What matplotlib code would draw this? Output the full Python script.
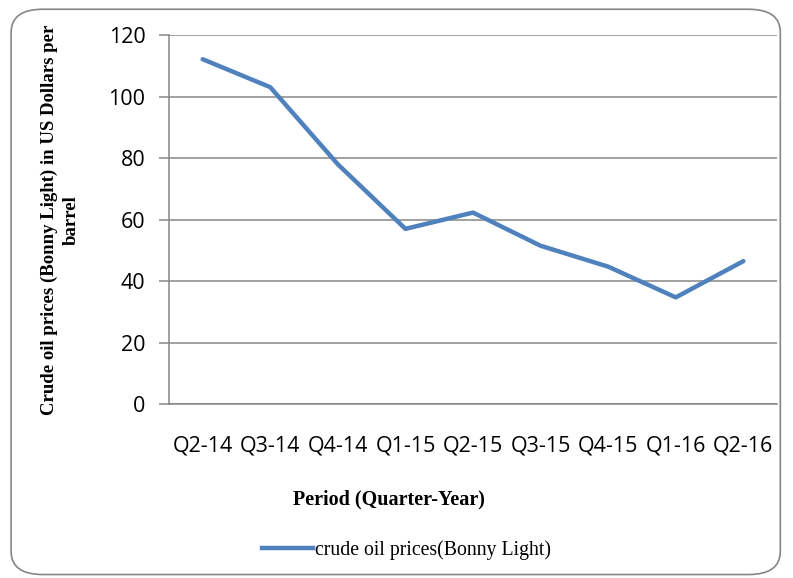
import matplotlib
matplotlib.use("Agg")
import matplotlib.pyplot as plt
from matplotlib.patches import FancyBboxPatch
from matplotlib.lines import Line2D

quarters = ["Q2-14", "Q3-14", "Q4-14", "Q1-15", "Q2-15", "Q3-15", "Q4-15", "Q1-16", "Q2-16"]
prices = [112.2, 103.1, 78.0, 57.0, 62.3, 51.5, 44.7, 34.7, 46.5]

fig = plt.figure(figsize=(7.93, 5.78), dpi=100)
ax = fig.add_axes([0.213, 0.301, 0.767, 0.638])

# rounded frame around the whole chart
frame = FancyBboxPatch((0.014, 0.006), 0.97, 0.978, boxstyle="round,pad=0,rounding_size=0.04",
                       transform=fig.transFigure, fill=False, edgecolor="#868686", linewidth=1.2)
fig.patches.append(frame)

x = list(range(len(quarters)))
ax.plot(x, prices, color="#4F81BD", linewidth=3.2, solid_capstyle="round")

ax.set_xlim(-0.5, len(quarters) - 0.5)
ax.set_ylim(0, 120)
ax.set_yticks(range(0, 121, 20))
ax.set_xticks(x)
ax.set_xticklabels(quarters)
ax.grid(axis="y", color="#868686", linewidth=1.1)
ax.set_axisbelow(True)
for s in ["top", "right"]:
    ax.spines[s].set_visible(False)
for s in ["left", "bottom"]:
    ax.spines[s].set_color("#868686")
    ax.spines[s].set_linewidth(1.1)
ax.tick_params(axis="y", length=7, color="#868686", width=1.1, labelsize=15.5, pad=10)
ax.tick_params(axis="x", length=0, labelsize=15.5, pad=23)
for lab in ax.get_xticklabels() + ax.get_yticklabels():
    lab.set_family("Open Sans")

fig.text(0.076, 0.62, "Crude oil prices (Bonny Light) in US Dollars per\nbarrel", rotation=90,
         ha="center", va="center", family="Liberation Serif", fontweight="bold", fontsize=13.5,
         linespacing=1.35)
fig.text(0.49, 0.135, "Period (Quarter-Year)", ha="center", va="center",
         family="Liberation Serif", fontweight="bold", fontsize=14.5)

handle = Line2D([], [], color="#4F81BD", linewidth=3.2)
fig.legend([handle], ["crude oil prices(Bonny Light)"], loc="center", bbox_to_anchor=(0.513, 0.048),
           frameon=False, prop={"family": "Liberation Serif", "size": 14.2},
           handlelength=2.6, handletextpad=0.1)

fig.savefig("out.png", dpi=100)
